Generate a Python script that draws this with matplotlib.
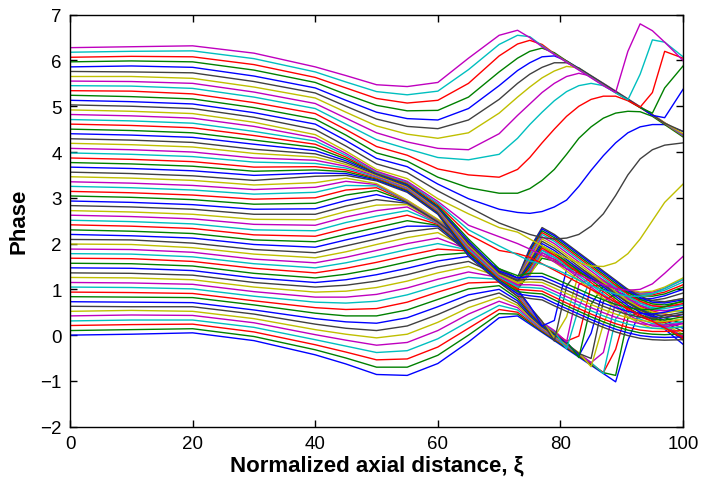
import matplotlib
matplotlib.use('Agg')
import matplotlib.pyplot as plt

plt.rcParams['font.family'] = ['Liberation Sans', 'DejaVu Sans']

xi = [0, 10, 20, 30, 40, 45, 50, 55, 60, 65, 70, 73, 75, 77, 79, 81, 83, 85, 87, 89, 91, 93, 95, 97, 100]

# electrons 0-14: lower fan (ride the bunch down, then turn up one after another)
lower_fan = [
    [0.00, 0.02, 0.05, -0.12, -0.43, -0.63, -0.86, -0.88, -0.62, -0.15, 0.38, 0.42, 0.24, 0.06, -0.12, -0.30, -0.48, -0.66, -0.84, -1.02, -0.12, 0.53, 0.33, 0.13, -0.20],
    [0.10, 0.12, 0.14, -0.03, -0.32, -0.50, -0.70, -0.70, -0.44, 0.00, 0.47, 0.46, 0.27, 0.08, -0.10, -0.28, -0.46, -0.64, -0.82, -0.88, 0.37, 0.53, 0.35, 0.17, -0.10],
    [0.21, 0.23, 0.24, 0.07, -0.21, -0.37, -0.54, -0.52, -0.26, 0.15, 0.56, 0.50, 0.30, 0.10, -0.08, -0.26, -0.44, -0.62, -0.82, -0.31, 0.63, 0.53, 0.35, 0.18, -0.08],
    [0.31, 0.33, 0.33, 0.17, -0.10, -0.24, -0.38, -0.34, -0.08, 0.30, 0.65, 0.55, 0.33, 0.12, -0.06, -0.24, -0.42, -0.60, -0.84, 0.35, 0.71, 0.53, 0.35, 0.18, -0.05],
    [0.42, 0.44, 0.43, 0.27, 0.01, -0.11, -0.22, -0.16, 0.10, 0.46, 0.74, 0.60, 0.36, 0.14, -0.04, -0.22, -0.40, -0.60, -0.38, 0.72, 0.71, 0.53, 0.36, 0.20, -0.02],
    [0.52, 0.54, 0.52, 0.36, 0.12, 0.02, -0.06, 0.02, 0.28, 0.60, 0.83, 0.65, 0.39, 0.16, -0.02, -0.20, -0.38, -0.69, 0.24, 0.89, 0.71, 0.54, 0.38, 0.23, 0.02],
    [0.63, 0.62, 0.62, 0.46, 0.24, 0.15, 0.10, 0.20, 0.45, 0.74, 0.92, 0.70, 0.42, 0.18, 0.00, -0.18, -0.40, -0.51, 0.74, 0.90, 0.72, 0.56, 0.41, 0.27, 0.08],
    [0.73, 0.72, 0.71, 0.55, 0.36, 0.29, 0.26, 0.38, 0.62, 0.88, 1.00, 0.75, 0.45, 0.20, 0.02, -0.16, -0.45, 0.04, 1.00, 0.90, 0.73, 0.58, 0.44, 0.32, 0.15],
    [0.84, 0.83, 0.82, 0.66, 0.48, 0.42, 0.42, 0.55, 0.78, 1.01, 1.08, 0.80, 0.48, 0.22, 0.04, -0.14, -0.49, 0.67, 1.08, 0.90, 0.74, 0.60, 0.48, 0.38, 0.25],
    [0.94, 0.93, 0.91, 0.75, 0.60, 0.56, 0.58, 0.72, 0.94, 1.14, 1.16, 0.85, 0.51, 0.24, 0.06, -0.13, -0.02, 1.08, 1.08, 0.90, 0.75, 0.63, 0.53, 0.46, 0.38],
    [1.05, 1.04, 1.01, 0.85, 0.72, 0.70, 0.74, 0.88, 1.08, 1.26, 1.22, 0.90, 0.54, 0.26, 0.08, -0.30, 0.60, 1.25, 1.08, 0.91, 0.77, 0.66, 0.58, 0.54, 0.52],
    [1.15, 1.14, 1.11, 0.95, 0.83, 0.83, 0.89, 1.03, 1.22, 1.38, 1.26, 0.93, 0.57, 0.28, 0.10, -0.15, 1.10, 1.26, 1.09, 0.92, 0.79, 0.70, 0.64, 0.62, 0.66],
    [1.26, 1.25, 1.21, 1.05, 0.94, 0.96, 1.04, 1.18, 1.36, 1.50, 1.28, 0.96, 0.60, 0.30, -0.05, 0.40, 1.36, 1.26, 1.09, 0.93, 0.81, 0.73, 0.70, 0.72, 0.80],
    [1.36, 1.35, 1.31, 1.15, 1.05, 1.09, 1.18, 1.32, 1.49, 1.61, 1.30, 0.98, 0.62, 0.30, -0.13, 1.07, 1.44, 1.27, 1.10, 0.95, 0.84, 0.77, 0.76, 0.80, 0.92],
    [1.47, 1.46, 1.41, 1.25, 1.15, 1.21, 1.32, 1.46, 1.62, 1.72, 1.31, 1.00, 0.64, 0.20, 0.32, 1.44, 1.44, 1.27, 1.11, 0.96, 0.86, 0.80, 0.80, 0.86, 1.00],
]

# electrons 15-33: climb into the bunch from below, then overshoot into the hump near xi = 77
hump = [
    [1.57, 1.56, 1.51, 1.35, 1.25, 1.33, 1.45, 1.60, 1.75, 1.80, 1.32, 1.00, 1.35, 1.68, 1.62, 1.50, 1.37, 1.24, 1.12, 1.01, 0.92, 0.86, 0.85, 0.90, 1.05],
    [1.68, 1.67, 1.61, 1.46, 1.36, 1.46, 1.59, 1.74, 1.88, 1.84, 1.33, 1.03, 1.42, 1.74, 1.66, 1.53, 1.39, 1.26, 1.14, 1.03, 0.94, 0.88, 0.88, 0.94, 1.10],
    [1.78, 1.77, 1.71, 1.56, 1.47, 1.58, 1.72, 1.87, 2.00, 1.86, 1.34, 1.06, 1.50, 1.80, 1.70, 1.56, 1.42, 1.28, 1.16, 1.05, 0.96, 0.90, 0.91, 0.98, 1.16],
    [1.88, 1.87, 1.81, 1.66, 1.58, 1.70, 1.85, 2.00, 2.12, 1.87, 1.36, 1.08, 1.57, 1.86, 1.74, 1.59, 1.44, 1.30, 1.18, 1.07, 0.98, 0.92, 0.94, 1.02, 1.21],
    [1.99, 1.98, 1.91, 1.77, 1.69, 1.82, 1.98, 2.13, 2.24, 1.88, 1.38, 1.10, 1.64, 1.92, 1.78, 1.62, 1.47, 1.33, 1.20, 1.09, 1.00, 0.94, 0.96, 1.05, 1.25],
    [2.09, 2.08, 2.01, 1.87, 1.80, 1.95, 2.10, 2.26, 2.34, 1.80, 1.45, 1.25, 1.90, 2.35, 2.20, 2.00, 1.80, 1.60, 1.40, 1.20, 1.00, 0.85, 0.75, 0.73, 0.80],
    [2.20, 2.17, 2.12, 1.98, 1.92, 2.08, 2.23, 2.38, 2.38, 1.82, 1.44, 1.24, 1.87, 2.32, 2.17, 1.97, 1.77, 1.57, 1.37, 1.17, 0.97, 0.82, 0.72, 0.70, 0.77],
    [2.30, 2.27, 2.22, 2.08, 2.04, 2.20, 2.35, 2.50, 2.40, 1.84, 1.43, 1.23, 1.83, 2.28, 2.13, 1.93, 1.73, 1.53, 1.33, 1.13, 0.93, 0.78, 0.68, 0.66, 0.73],
    [2.41, 2.38, 2.33, 2.19, 2.16, 2.33, 2.48, 2.62, 2.42, 1.86, 1.42, 1.22, 1.79, 2.24, 2.09, 1.89, 1.69, 1.49, 1.29, 1.09, 0.89, 0.74, 0.64, 0.62, 0.69],
    [2.51, 2.48, 2.43, 2.30, 2.28, 2.46, 2.60, 2.72, 2.44, 1.88, 1.41, 1.21, 1.75, 2.20, 2.05, 1.85, 1.65, 1.45, 1.25, 1.05, 0.85, 0.70, 0.60, 0.58, 0.65],
    [2.62, 2.59, 2.54, 2.42, 2.40, 2.58, 2.72, 2.80, 2.45, 1.90, 1.40, 1.20, 1.70, 2.15, 2.00, 1.80, 1.60, 1.40, 1.20, 1.00, 0.80, 0.65, 0.55, 0.53, 0.60],
    [2.72, 2.69, 2.64, 2.53, 2.52, 2.70, 2.84, 2.85, 2.46, 1.92, 1.39, 1.19, 1.65, 2.10, 1.95, 1.75, 1.55, 1.35, 1.15, 0.95, 0.75, 0.60, 0.50, 0.48, 0.55],
    [2.83, 2.80, 2.75, 2.64, 2.64, 2.82, 2.96, 2.88, 2.47, 1.94, 1.38, 1.18, 1.60, 2.05, 1.90, 1.70, 1.50, 1.30, 1.10, 0.90, 0.70, 0.55, 0.45, 0.43, 0.50],
    [2.93, 2.90, 2.85, 2.75, 2.76, 2.94, 3.07, 2.90, 2.48, 1.96, 1.37, 1.17, 1.55, 2.00, 1.85, 1.65, 1.45, 1.25, 1.05, 0.85, 0.65, 0.50, 0.40, 0.38, 0.45],
    [3.04, 3.01, 2.96, 2.86, 2.88, 3.06, 3.16, 2.91, 2.49, 1.98, 1.36, 1.16, 1.50, 1.95, 1.80, 1.60, 1.40, 1.20, 1.00, 0.80, 0.60, 0.45, 0.35, 0.33, 0.40],
    [3.14, 3.11, 3.06, 2.97, 3.00, 3.17, 3.22, 2.92, 2.50, 2.00, 1.35, 1.15, 1.45, 1.90, 1.75, 1.55, 1.35, 1.15, 0.95, 0.75, 0.55, 0.40, 0.30, 0.28, 0.35],
    [3.25, 3.22, 3.17, 3.08, 3.12, 3.27, 3.26, 2.93, 2.51, 2.02, 1.34, 1.14, 1.40, 1.85, 1.70, 1.50, 1.30, 1.10, 0.90, 0.70, 0.50, 0.35, 0.25, 0.23, 0.30],
    [3.35, 3.32, 3.27, 3.18, 3.23, 3.36, 3.29, 2.94, 2.52, 2.04, 1.33, 1.13, 1.35, 1.80, 1.65, 1.45, 1.25, 1.05, 0.85, 0.65, 0.45, 0.30, 0.20, 0.18, 0.25],
    [3.46, 3.43, 3.38, 3.28, 3.33, 3.43, 3.31, 2.95, 2.53, 2.06, 1.32, 1.12, 1.30, 1.75, 1.60, 1.40, 1.20, 1.00, 0.80, 0.60, 0.40, 0.25, 0.15, 0.13, 0.20],
]

# electrons 34-46: fall into the bunch from above and drift down through the tangle
upper_mid = [
    [3.56, 3.53, 3.48, 3.38, 3.47, 3.49, 3.37, 3.12, 2.64, 1.72, 1.15, 0.85, 0.80, 0.77, 0.64, 0.52, 0.40, 0.28, 0.17, 0.07, -0.01, -0.07, -0.10, -0.11, -0.10],
    [3.67, 3.64, 3.59, 3.49, 3.54, 3.53, 3.39, 3.14, 2.66, 1.76, 1.18, 0.90, 0.86, 0.83, 0.70, 0.58, 0.46, 0.34, 0.23, 0.13, 0.05, -0.01, -0.04, -0.05, -0.04],
    [3.77, 3.74, 3.69, 3.58, 3.61, 3.57, 3.41, 3.16, 2.68, 1.80, 1.21, 0.95, 0.92, 0.90, 0.77, 0.64, 0.52, 0.40, 0.29, 0.19, 0.11, 0.05, 0.02, 0.01, 0.03],
    [3.87, 3.84, 3.79, 3.67, 3.68, 3.61, 3.43, 3.18, 2.70, 1.84, 1.24, 1.00, 0.98, 0.96, 0.83, 0.70, 0.58, 0.46, 0.35, 0.25, 0.17, 0.11, 0.08, 0.08, 0.10],
    [3.98, 3.95, 3.90, 3.78, 3.75, 3.65, 3.45, 3.20, 2.72, 1.88, 1.27, 1.05, 1.04, 1.02, 0.90, 0.77, 0.65, 0.53, 0.42, 0.32, 0.24, 0.18, 0.15, 0.15, 0.18],
    [4.08, 4.05, 4.00, 3.87, 3.82, 3.69, 3.47, 3.22, 2.74, 1.92, 1.30, 1.10, 1.10, 1.08, 0.96, 0.84, 0.72, 0.60, 0.49, 0.39, 0.31, 0.25, 0.22, 0.22, 0.26],
    [4.19, 4.16, 4.11, 3.97, 3.89, 3.73, 3.49, 3.24, 2.76, 1.96, 1.33, 1.15, 1.16, 1.15, 1.03, 0.91, 0.79, 0.67, 0.56, 0.46, 0.38, 0.32, 0.29, 0.30, 0.35],
    [4.29, 4.26, 4.21, 4.06, 3.96, 3.77, 3.51, 3.26, 2.78, 2.00, 1.36, 1.20, 1.22, 1.21, 1.10, 0.98, 0.86, 0.74, 0.63, 0.53, 0.45, 0.39, 0.37, 0.39, 0.46],
    [4.40, 4.37, 4.32, 4.17, 4.03, 3.81, 3.53, 3.28, 2.80, 2.05, 1.40, 1.25, 1.28, 1.28, 1.17, 1.05, 0.93, 0.81, 0.70, 0.60, 0.52, 0.47, 0.46, 0.50, 0.60],
    [4.50, 4.47, 4.42, 4.26, 4.10, 3.85, 3.54, 3.30, 2.82, 2.10, 1.45, 1.30, 1.35, 1.35, 1.24, 1.12, 1.00, 0.88, 0.77, 0.67, 0.60, 0.56, 0.56, 0.62, 0.75],
    [4.61, 4.58, 4.53, 4.36, 4.17, 3.89, 3.55, 3.32, 2.85, 2.20, 1.85, 1.78, 1.70, 1.56, 1.42, 1.28, 1.14, 1.00, 0.86, 0.72, 0.58, 0.44, 0.30, 0.16, -0.05],
    [4.71, 4.68, 4.63, 4.45, 4.24, 3.93, 3.56, 3.34, 2.88, 2.30, 1.95, 1.75, 1.62, 1.55, 1.45, 1.33, 1.20, 1.08, 0.98, 0.90, 0.85, 0.85, 0.90, 1.02, 1.22],
    [4.82, 4.79, 4.74, 4.56, 4.31, 3.97, 3.58, 3.36, 2.92, 2.40, 2.15, 2.00, 1.88, 1.75, 1.60, 1.45, 1.32, 1.20, 1.10, 1.02, 0.98, 1.00, 1.12, 1.35, 1.72],
]

# electrons 47-60: upper fan (dip, climb to the upper bunch, slide down with it)
upper_fan = [
    [4.92, 4.89, 4.84, 4.65, 4.38, 4.02, 3.62, 3.42, 2.98, 2.65, 2.35, 2.25, 2.10, 1.95, 1.80, 1.68, 1.58, 1.51, 1.50, 1.58, 1.78, 2.10, 2.50, 2.90, 3.30],
    [5.03, 5.00, 4.95, 4.76, 4.49, 4.13, 3.74, 3.55, 3.15, 2.80, 2.45, 2.30, 2.20, 2.13, 2.10, 2.12, 2.20, 2.38, 2.65, 3.05, 3.50, 3.85, 4.05, 4.15, 4.20],
    [5.13, 5.10, 5.05, 4.86, 4.61, 4.25, 3.86, 3.68, 3.30, 2.98, 2.75, 2.68, 2.66, 2.70, 2.80, 2.95, 3.25, 3.60, 3.92, 4.20, 4.42, 4.55, 4.60, 4.60, 4.45],
    [5.24, 5.21, 5.16, 4.97, 4.72, 4.37, 3.98, 3.80, 3.45, 3.22, 3.10, 3.10, 3.20, 3.38, 3.62, 3.95, 4.30, 4.55, 4.74, 4.85, 4.89, 4.88, 4.78, 4.60, 4.33],
    [5.34, 5.33, 5.27, 5.08, 4.84, 4.49, 4.12, 3.93, 3.63, 3.50, 3.45, 3.62, 3.88, 4.20, 4.50, 4.78, 5.00, 5.15, 5.22, 5.22, 5.12, 4.97, 4.80, 4.62, 4.35],
    [5.45, 5.44, 5.39, 5.20, 4.95, 4.61, 4.27, 4.07, 3.88, 3.83, 3.95, 4.30, 4.60, 4.87, 5.12, 5.32, 5.45, 5.50, 5.45, 5.30, 5.15, 4.98, 4.81, 4.63, 4.36],
    [5.55, 5.54, 5.50, 5.31, 5.06, 4.74, 4.42, 4.22, 4.08, 4.05, 4.40, 4.80, 5.05, 5.30, 5.50, 5.65, 5.72, 5.66, 5.50, 5.33, 5.16, 4.99, 4.82, 4.64, 4.38],
    [5.65, 5.65, 5.61, 5.42, 5.18, 4.87, 4.57, 4.39, 4.30, 4.42, 4.85, 5.20, 5.42, 5.62, 5.77, 5.87, 5.84, 5.67, 5.50, 5.33, 5.16, 4.99, 4.82, 4.64, 4.40],
    [5.76, 5.75, 5.73, 5.54, 5.29, 5.00, 4.72, 4.56, 4.51, 4.70, 5.15, 5.50, 5.70, 5.85, 5.95, 5.95, 5.83, 5.66, 5.49, 5.32, 5.15, 4.98, 4.81, 4.63, 4.45],
    [5.86, 5.88, 5.85, 5.66, 5.40, 5.13, 4.87, 4.73, 4.70, 4.95, 5.45, 5.78, 5.95, 6.08, 6.10, 5.99, 5.83, 5.66, 5.49, 5.32, 5.15, 4.98, 4.80, 4.75, 5.37],
    [5.97, 5.99, 5.97, 5.79, 5.52, 5.26, 5.02, 4.90, 4.91, 5.20, 5.75, 6.05, 6.20, 6.27, 6.17, 5.99, 5.82, 5.65, 5.48, 5.31, 5.14, 4.97, 4.85, 5.40, 5.88],
    [6.07, 6.09, 6.08, 5.91, 5.63, 5.40, 5.17, 5.07, 5.13, 5.50, 6.10, 6.36, 6.44, 6.35, 6.15, 5.98, 5.81, 5.64, 5.47, 5.30, 5.13, 4.98, 5.30, 6.20, 6.05],
    [6.18, 6.20, 6.21, 6.04, 5.75, 5.53, 5.32, 5.25, 5.33, 5.80, 6.35, 6.55, 6.52, 6.32, 6.14, 5.97, 5.80, 5.63, 5.46, 5.29, 5.14, 5.70, 6.45, 6.40, 6.08],
    [6.28, 6.30, 6.32, 6.16, 5.86, 5.67, 5.47, 5.43, 5.52, 6.05, 6.55, 6.66, 6.50, 6.30, 6.13, 5.96, 5.79, 5.62, 5.45, 5.30, 6.20, 6.80, 6.65, 6.40, 6.00],
]

# MATLAB's old default colour order: b g r c m y k
line_colors = ['#0000ff', '#008000', '#ff0000', '#00bfbf', '#bf00bf', '#bfbf00', '#404040']

fig = plt.figure(figsize=(7.01, 4.89), dpi=100)
ax = fig.add_axes([0.0999, 0.1254, 0.8745, 0.8425])

phases = lower_fan + hump + upper_mid + upper_fan
for i, phase in enumerate(phases):
    ax.plot(xi, phase, color=line_colors[i % len(line_colors)], linewidth=1.0)

ax.set_xlim(0, 100)
ax.set_ylim(-2, 7)
ax.set_xticks([0, 20, 40, 60, 80, 100])
ax.set_yticks(range(-2, 8))
ax.tick_params(direction='in', top=True, right=True, length=5, width=1.0,
               labelsize=13.5, pad=6)
for spine in ax.spines.values():
    spine.set_linewidth(1.0)

ax.set_xlabel('Normalized axial distance, ξ', fontsize=16, fontweight='bold', labelpad=2)
ax.set_ylabel('Phase', fontsize=16, fontweight='bold', labelpad=8)

fig.savefig('out.png', dpi=100)
